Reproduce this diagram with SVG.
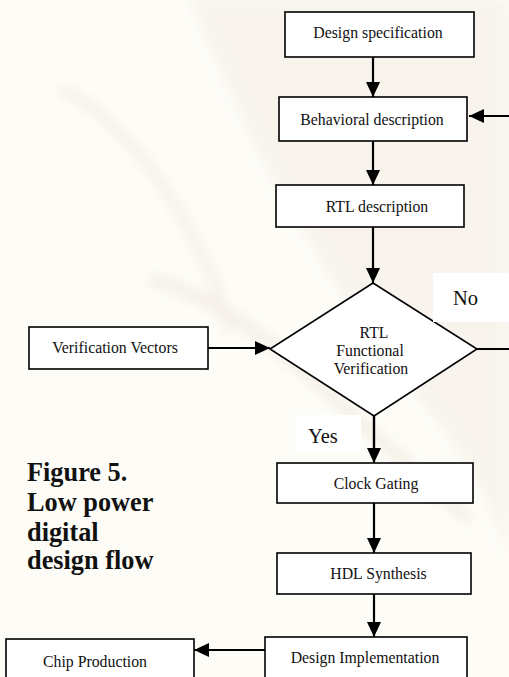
<svg xmlns="http://www.w3.org/2000/svg" width="509" height="677" viewBox="0 0 509 677">
<style>
.box{fill:#fff;stroke:#000;stroke-width:1.6}
.t{font-family:"Liberation Serif","Times New Roman",serif;font-size:15.8px;fill:#111;text-anchor:middle}
.lbl{font-family:"Liberation Serif","Times New Roman",serif;font-size:20.5px;fill:#111}
.fig{font-family:"Liberation Serif","Times New Roman",serif;font-size:26.3px;font-weight:bold;fill:#111}
.c{fill:none;stroke:#000;stroke-width:2.2}
</style>
<defs>
<marker id="ah" markerWidth="15" markerHeight="14" refX="15" refY="7" orient="auto" markerUnits="userSpaceOnUse">
<path d="M0,0 L15,7 L0,14 Z" fill="#000"/>
</marker>
<filter id="blur"><feGaussianBlur stdDeviation="6"/></filter>
</defs>
<rect width="509" height="677" fill="#fdfcf7"/>
<g id="watermark" filter="url(#blur)" opacity="0.35">
<path d="M190,0 C240,120 300,250 420,400 C470,460 500,520 509,560 L509,0 Z" fill="#efe6dc"/>
<path d="M60,90 C120,110 200,220 230,330" fill="none" stroke="#e8dccb" stroke-width="10"/>
<path d="M150,280 C250,300 350,420 470,520" fill="none" stroke="#e6d8c8" stroke-width="12"/>
</g>
<g id="connectors">
<line class="c" x1="373" y1="57" x2="373" y2="97" marker-end="url(#ah)"/>
<line class="c" x1="373" y1="141" x2="373" y2="185" marker-end="url(#ah)"/>
<line class="c" x1="373" y1="227" x2="373" y2="283" marker-end="url(#ah)"/>
<line class="c" x1="208" y1="348" x2="270" y2="348" marker-end="url(#ah)"/>
<line class="c" x1="374" y1="416" x2="374" y2="463" marker-end="url(#ah)"/>
<line class="c" x1="374" y1="503" x2="374" y2="553" marker-end="url(#ah)"/>
<line class="c" x1="374" y1="594" x2="374" y2="637" marker-end="url(#ah)"/>
<line class="c" x1="265" y1="650" x2="194" y2="650" marker-end="url(#ah)"/>
<path class="c" d="M477,349 H520 V116 H469" marker-end="url(#ah)"/>
</g>
<g id="n-spec"><rect class="box" x="285" y="12" width="189" height="45"/><text class="t" x="378" y="37.7">Design specification</text></g>
<g id="n-behav"><rect class="box" x="279" y="97" width="188" height="44"/><text class="t" x="372" y="125">Behavioral description</text></g>
<g id="n-rtl"><rect class="box" x="276" y="185" width="188" height="42"/><text class="t" x="377" y="211.7">RTL description</text></g>
<g id="n-vv"><rect class="box" x="29" y="327" width="179" height="42"/><text class="t" x="115" y="352.7">Verification Vectors</text></g>
<g id="n-verif"><polygon class="box" points="373,283 477,349 374,416 270,349"/>
<text class="t" x="374" y="338.3">RTL</text><text class="t" x="370" y="356">Functional</text><text class="t" x="371" y="374">Verification</text></g>
<g id="n-clock"><rect class="box" x="277" y="463" width="196" height="40"/><text class="t" x="376" y="489">Clock Gating</text></g>
<g id="n-hdl"><rect class="box" x="277" y="553" width="194" height="41"/><text class="t" x="378.5" y="579">HDL Synthesis</text></g>
<g id="n-impl"><rect class="box" x="265" y="637" width="202" height="50"/><text class="t" x="365" y="663">Design Implementation</text></g>
<g id="n-chip"><rect class="box" x="6" y="639" width="188" height="50"/><text class="t" x="95" y="666.7">Chip Production</text></g>
<g id="labels">
<rect x="433" y="273" width="76" height="49" fill="#fff"/>
<text class="lbl" x="453" y="305">No</text>
<rect x="295" y="415" width="66" height="37" fill="#fff"/>
<line class="c" x1="374" y1="415" x2="374" y2="452"/>
<text class="lbl" x="308" y="443">Yes</text>
</g>
<g id="caption">
<text class="fig" x="27" y="481">Figure 5.</text>
<text class="fig" x="27" y="511">Low power</text>
<text class="fig" x="27" y="541">digital</text>
<text class="fig" x="27" y="569">design flow</text>
</g>
</svg>
